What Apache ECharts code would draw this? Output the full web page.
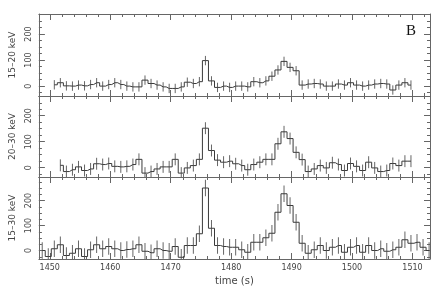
<!DOCTYPE html>
<html>
<head>
<meta charset="utf-8">
<script src="https://cdn.jsdelivr.net/npm/echarts@6.0.0/dist/echarts.min.js"></script>
<style>
html, body { margin: 0; padding: 0; background: #fff; }
#chart { width: 431px; height: 300px; }
</style>
</head>
<body>
<div id="chart"></div>
<script>
// count rates, 1 s bins, first bin centre given by startN
var start1 = 1450.75;
var band1 = [5, 13, 1, 0, 4, 1, 6, 13, 0, 6, 13, 6, 0, -3, -3, 23, 10, 4, -3, -9,
  -9, -3, 15, 10, 17, 98, 20, -5, 0, -5,
  0, 0, -3, 17, 13, 20, 38, 62, 95, 72, 59, 4, 8, 10, 8, 0, 0, 8, 4, 13,
  4, 0, 4, 8, 10, 8, -15, 4, 13, 4];
var start2 = 1451.75;
var band2 = [9, -15, -8, 3, -11, -5, 15, 12, 16, 5, 3, 5, 12, 32, -21, -15, -5, 3, 3, 32,
  -21, -1, 8, 32, 152, 66, 29, 21, 25,
  15, 8, -8, 12, 21, 32, 32, 92, 138, 112, 59, 31, -15, -5, 8, -1, 19, 12, -11, 16,
  5, -11, 21, -1, -15, -11, 16, 8, 25, 25];
var start3 = 1448.75;
var band3 = [0, -24, 7, 23, -20, -11, 7, -24, 3, 23, 7, 16, 7, 0, 4, 7, 23, -3, -9, 7,
  0, -3, 16, -27, 20, 20, 67, 250, 89, 20, 16, 13, 13,
  3, -7, 33, 33, 51, 69, 153, 227, 180, 113, 29, -11, 3, 20, 0, 13, 20, -7, 13, 20,
  -7, 20, 0, 7, -3, 3, 13, 43, 29, 33, 13, 0];
var errs = [18, 23, 33];

var names = ['15\u201320 keV', '20\u201330 keV', '15\u201330 keV'];
var yRanges = [[-38, 277], [-36, 276], [-34, 294]];
var xMajor = [1450, 1460, 1470, 1480, 1490, 1500, 1510];
var xMinor = [1450, 1452, 1454, 1456, 1458, 1460, 1462, 1464, 1466, 1468, 1470, 1472,
  1474, 1476, 1478, 1480, 1482, 1484, 1486, 1488, 1490, 1492, 1494, 1496, 1498, 1500,
  1502, 1504, 1506, 1508, 1510, 1512];
var yMajor = [0, 100, 200];
var yMinor = [-25, 0, 25, 50, 75, 100, 125, 150, 175, 200, 225, 250, 275];

var xMin = 1448.2, xMax = 1512.9;
var frame = '#666';
var textCol = '#444';

var chart = echarts.init(document.getElementById('chart'));

var grids = [
  {left: 32, right: 1, top: 14, height: 82},
  {left: 32, right: 1, top: 96, height: 81},
  {left: 32, right: 1, top: 177, height: 82}
];

function pts(start, vals, err) {
  return vals.map(function (v, i) { return [start + i, v, err]; });
}

var xAxes = [], yAxes = [], series = [];
var bands = [[start1, band1], [start2, band2], [start3, band3]];

grids.forEach(function (g, i) {
  var last = i === 2;
  ['bottom', 'top'].forEach(function (pos) {
    xAxes.push({
      type: 'value', gridIndex: i, position: pos, min: xMin, max: xMax,
      splitLine: {show: false},
      axisLine: {show: true, onZero: false, lineStyle: {color: frame, width: 1}},
      axisTick: {inside: true, length: 3, customValues: xMinor, lineStyle: {color: frame}},
      axisLabel: {show: false}
    });
    var showLab = last && pos === 'bottom';
    xAxes.push({
      type: 'value', gridIndex: i, position: pos, min: xMin, max: xMax,
      splitLine: {show: false},
      axisLine: {show: false, onZero: false},
      axisTick: {show: true, inside: true, length: 6, customValues: xMajor, lineStyle: {color: frame}},
      axisLabel: {show: showLab, customValues: xMajor, color: textCol, fontSize: 8, margin: 5,
        fontFamily: 'DejaVu Sans', formatter: function (v) { return String(v); }},
      name: showLab ? 'time (s)' : '',
      nameLocation: 'middle', nameGap: 17,
      nameTextStyle: {color: textCol, fontSize: 10, fontFamily: 'DejaVu Sans'}
    });
  });
  var r = yRanges[i];
  ['left', 'right'].forEach(function (pos) {
    yAxes.push({
      type: 'value', gridIndex: i, position: pos, min: r[0], max: r[1],
      splitLine: {show: false},
      axisLine: {show: true, onZero: false, lineStyle: {color: frame, width: 1}},
      axisTick: {inside: true, length: 3, customValues: yMinor, lineStyle: {color: frame}},
      axisLabel: {show: false}
    });
    var showLab = pos === 'left';
    yAxes.push({
      type: 'value', gridIndex: i, position: pos, min: r[0], max: r[1],
      splitLine: {show: false},
      axisLine: {show: false, onZero: false},
      axisTick: {show: true, inside: true, length: 6, customValues: yMajor, lineStyle: {color: frame}},
      axisLabel: {show: showLab, customValues: yMajor, rotate: 90, color: textCol, fontSize: 8,
        margin: 6, fontFamily: 'DejaVu Sans'},
      name: showLab ? names[i] : '',
      nameLocation: 'middle', nameGap: 19, nameRotate: 90,
      nameTextStyle: {color: textCol, fontSize: 9, fontFamily: 'DejaVu Sans'}
    });
  });

  var d = pts(bands[i][0], bands[i][1], errs[i]);
  series.push({
    type: 'line', xAxisIndex: i * 4, yAxisIndex: i * 4,
    data: d, step: 'middle', showSymbol: false, silent: true,
    lineStyle: {color: '#3a3a3a', width: 1}
  });
  series.push({
    type: 'custom', xAxisIndex: i * 4, yAxisIndex: i * 4,
    data: d, clip: true, silent: true,
    renderItem: function (params, api) {
      var x = api.value(0), y = api.value(1), e = api.value(2);
      var p1 = api.coord([x, y - e]);
      var p2 = api.coord([x, y + e]);
      return {
        type: 'line',
        shape: {x1: p1[0], y1: p1[1], x2: p2[0], y2: p2[1]},
        style: {stroke: '#666', lineWidth: 1}
      };
    }
  });
});

chart.setOption({
  animation: false,
  grid: grids,
  xAxis: xAxes,
  yAxis: yAxes,
  series: series,
  graphic: [{
    type: 'text', left: 406, top: 24,
    style: {text: 'B', fontSize: 15, fontFamily: 'Liberation Serif', fill: '#111'}
  }]
});
</script>
</body>
</html>
